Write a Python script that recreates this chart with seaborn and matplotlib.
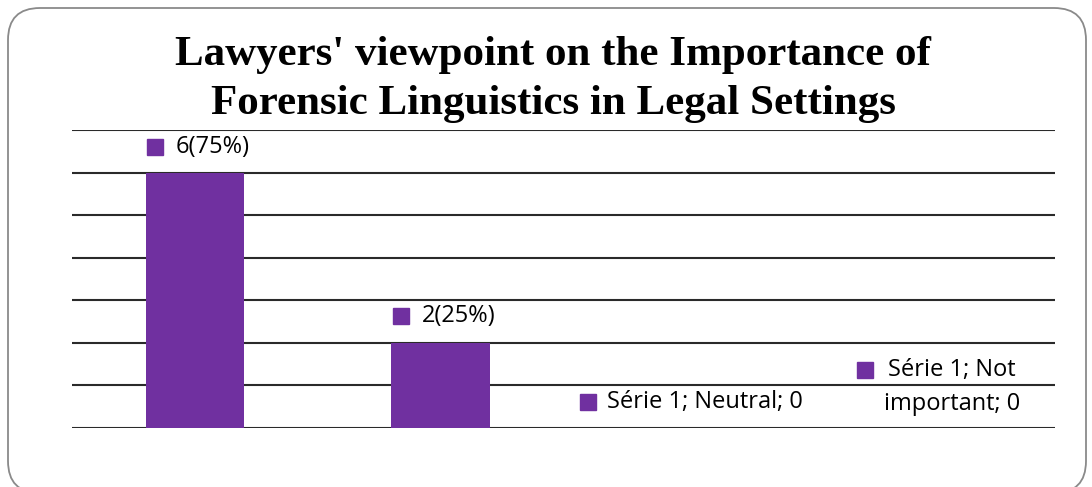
import matplotlib
matplotlib.use("Agg")
import matplotlib.pyplot as plt
from matplotlib.patches import FancyBboxPatch
from matplotlib.transforms import ScaledTranslation
import seaborn as sns
import pandas as pd

# Survey responses (number of lawyers per answer)
categories = ["Very important", "Important", "Neutral", "Not important"]
counts = [6, 2, 0, 0]
labels = ["6(75%)", "2(25%)", "Série 1; Neutral; 0", "Série 1; Not\nimportant; 0"]

BAR_COLOR = "#7030A0"
GRID_COLOR = "#2a2a2a"

sns.set_theme(style="white")
plt.rcParams["font.family"] = ["Open Sans", "DejaVu Sans"]

df = pd.DataFrame({"category": categories, "count": counts})

fig = plt.figure(figsize=(10.92, 4.87), dpi=100)
W, H = 1092, 487
ax = fig.add_axes([72 / W, (H - 428) / H, (1055 - 72) / W, (428 - 130) / H])

sns.barplot(data=df, x="category", y="count", color=BAR_COLOR, width=0.4,
            saturation=1, linewidth=0, ax=ax, zorder=3)

ax.set_ylim(0, 7)
ax.set_xlim(-0.5, 3.5)
for yv in range(0, 8):
    ax.axhline(yv, color=GRID_COLOR, lw=1.5, zorder=1)
ax.set_xticks([])
ax.set_yticks([])
ax.set_xlabel("")
ax.set_ylabel("")
for s in ax.spines.values():
    s.set_visible(False)

# data labels: (marker offset, text offset, text alignment) in pixels from bar top
label_layout = [
    ((-40, 26), (-19, 26), "left"),
    ((-40, 27), (-19, 27), "left"),
    ((-98, 26), (-79, 26), "left"),
    ((-67, 58), (20, 41), "center"),
]
for i, (v, lab) in enumerate(zip(counts, labels)):
    (mx, my), (tx, ty), ha = label_layout[i]
    ax.plot([i], [v], marker="s", ms=11, color=BAR_COLOR, ls="none",
            transform=ax.transData + ScaledTranslation(mx / 100, my / 100,
                                                       fig.dpi_scale_trans),
            clip_on=False, zorder=5)
    ax.annotate(lab, xy=(i, v), xytext=(tx, ty), textcoords="offset pixels",
                ha=ha, va="center", fontsize=17, color="black",
                multialignment="center", linespacing=1.55)

title_lines = ["Lawyers' viewpoint on the Importance of",
               "Forensic Linguistics in Legal Settings"]
for line, ypx in zip(title_lines, (55, 104)):
    fig.text(553 / W, 1 - ypx / H, line, ha="center", va="center",
             fontsize=31, fontweight="bold", color="black",
             family="Liberation Serif")

# rounded chart frame
frame = FancyBboxPatch((8, -6), 1078, 485, boxstyle="round,pad=0,rounding_size=32",
                       transform=None, facecolor="none", edgecolor="#8a8a8a", lw=1.3)
fig.add_artist(frame)

fig.savefig("out.png", dpi=100)
